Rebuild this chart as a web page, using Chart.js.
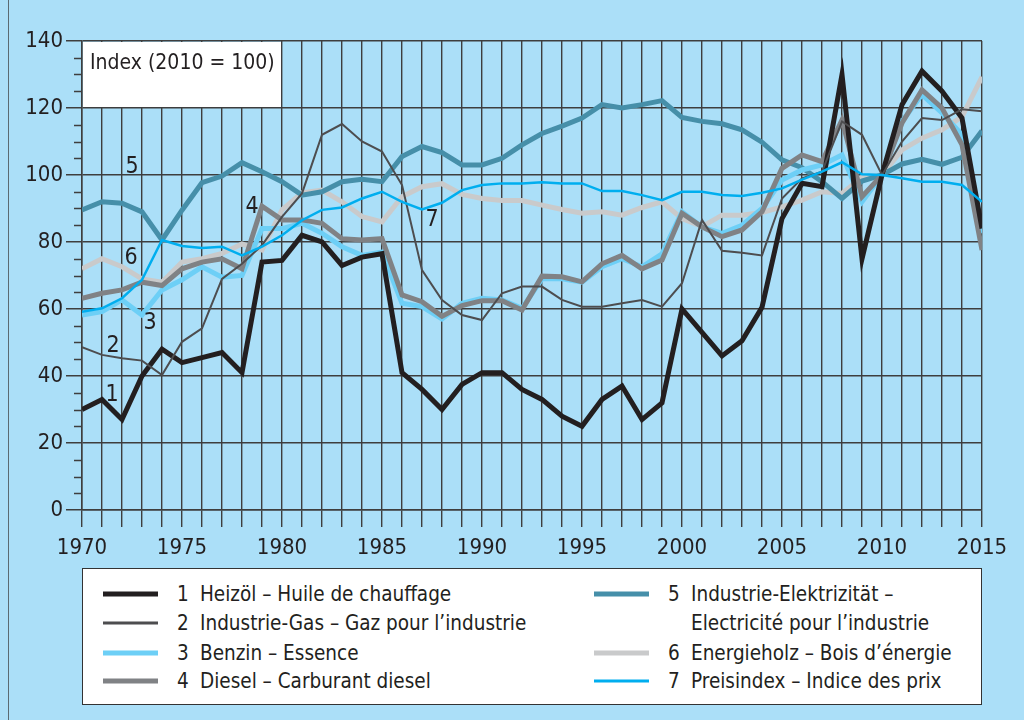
<!DOCTYPE html>
<html>
<head>
<meta charset="utf-8">
<script src="https://cdn.jsdelivr.net/npm/chart.js@4.4.1/dist/chart.umd.min.js"></script>
<style>
    body { margin: 0; background: #abdff8; }
    #wrap { position: relative; width: 1024px; height: 720px; overflow: hidden; background: #abdff8; }
    #edge { position: absolute; left: 8px; top: 0; width: 1px; height: 720px; background: #5a6a72; }
    #plot { position: absolute; left: 0; top: 0; }
    #legend {
        position: absolute; left: 82px; top: 568px; width: 898px; height: 135px;
        background: #fff; border: 1.5px solid #333;
        font-family: 'Liberation Sans Narrow', 'DejaVu Sans Condensed', sans-serif;
        font-size: 20.5px; color: #231f20;
    }
    .item { position: absolute; height: 26px; line-height: 26px; white-space: nowrap; }
    .item .swatch { position: absolute; left: 0; top: 50%; width: 55px; transform: translateY(-50%); }
    .item .num { position: absolute; left: 74px; }
    .item .txt { position: absolute; left: 97px; line-height: 29px; top: -1px; }
</style>
</head>
<body>
<div id="wrap">
    <div id="edge"></div>
    <canvas id="plot" width="1024" height="720"></canvas>
    <div id="legend"></div>
</div>
<script>
const years = [];
for (let y = 1970; y <= 2015; y++) years.push(y);

// 1 Heizöl
const heizoel = [30, 33, 27, 40, 48, 44, 45.5, 47, 41, 74, 74.5, 82, 80, 73, 75.5, 76.5,
    41, 36, 30, 37.5, 41, 41, 36, 33, 28, 25, 33, 37, 27, 32,
    60, 53, 46, 50.5, 60.5, 87, 97.5, 96.5, 130, 75, 100, 121, 131, 125, 117, 84];
// 2 Industrie-Gas
const gas = [48.6, 46.3, 45.3, 44.6, 40.3, 50.2, 54.2, 69, 73.5, 79, 87.5, 94.5, 112, 115.2, 110, 107,
    97, 71.6, 62.7, 58.2, 56.7, 64.7, 66.7, 66.7, 62.7, 60.7, 60.7, 61.7, 62.7, 60.7,
    67.7, 86.6, 77.4, 76.8, 76, 93, 99, 101, 116, 112, 100, 110, 117, 116.4, 119.6, 119];
// 3 Benzin
const benzin = [58.2, 59.2, 62.7, 58.2, 65.7, 68.7, 72.6, 69.5, 70, 84, 84, 85.6, 82.6, 78.6, 76, 77,
    61.7, 60.7, 57, 61.7, 63.2, 62.7, 60.2, 69, 69, 68, 72.6, 75, 72.6, 76.5,
    89, 84.5, 82.6, 85, 90, 98.5, 101.5, 103, 106, 92, 100, 116, 124, 118.5, 112, 82.6];
// 4 Diesel
const diesel = [63.2, 64.7, 65.7, 68, 67, 72, 74, 75, 72, 90.7, 86.6, 86.6, 85.6, 81, 80.6, 81,
    64.2, 62.2, 57.8, 61, 62.5, 62.5, 59.7, 69.8, 69.6, 68.1, 73.5, 76, 72, 74.6,
    88.6, 84.5, 81.6, 83.6, 89, 102, 106, 104, 116.4, 93.5, 100, 115.5, 125.4, 120, 109, 77.6];
// 5 Industrie-Elektrizität
const elektrizitaet = [89.6, 92, 91.6, 89, 80.6, 89.5, 97.7, 99.7, 103.7, 101, 98, 94, 95, 98, 98.7, 98,
    105.5, 108.5, 106.7, 103, 103, 105, 109, 112.4, 114.6, 117, 121, 120, 121, 122.2,
    117.2, 116, 115.3, 113.5, 109.8, 104.5, 102.2, 98, 93, 98.2, 100, 103.3, 104.7, 103.2, 105.3, 113.2];
// 6 Energieholz
const holz = [72, 75, 72.6, 69, 68, 74, 75, 76.6, 79.4, 77.6, 89.6, 94.7, 95.5, 92, 87.6, 86,
    93.5, 96.5, 97.4, 94.2, 93, 92.4, 92.4, 91, 89.7, 88.6, 89, 88, 90.3, 92,
    87, 84.6, 88, 88, 88.8, 90.5, 92.5, 95, 94.5, 99.3, 100, 107.5, 111, 113.5, 117.4, 129.3];
// 7 Preisindex
const preis = [59.2, 60.2, 63.2, 68.7, 80.6, 78.8, 78.2, 78.6, 76, 78.6, 82, 86.5, 89.6, 90.3, 93, 95,
    92, 89.7, 91.7, 95.5, 97, 97.5, 97.5, 97.8, 97.5, 97.5, 95.2, 95.2, 94, 92.5,
    95, 95, 94, 93.7, 94.7, 96, 98.6, 101, 103.8, 100.2, 100, 99, 98, 98, 97, 92];

const seriesNames = [
    'Heizöl – Huile de chauffage',
    'Industrie-Gas – Gaz pour l’industrie',
    'Benzin – Essence',
    'Diesel – Carburant diesel',
    'Industrie-Elektrizität –\nElectricité pour l’industrie',
    'Energieholz – Bois d’énergie',
    'Preisindex – Indice des prix'
];
const seriesData = [heizoel, gas, benzin, diesel, elektrizitaet, holz, preis];
const seriesColors = ['#231f20', '#4d4d4f', '#6dcff6', '#808285', '#468fa9', '#c9cacb', '#00aeef'];
const seriesWidths = [5, 2, 5, 5, 5, 5, 2.5];
// lower = drawn on top
const seriesOrder = [2, 1, 4, 3, 5, 6, 0];

// in-chart series numbers: [label, year, value]
const markers = [
    ['1', 1971.5, 34.3], ['2', 1971.55, 49], ['3', 1973.4, 55.8], ['4', 1978.5, 90.4],
    ['5', 1972.5, 102.4], ['6', 1972.45, 75.2], ['7', 1987.5, 86.6]
];

const FONT = "'Liberation Sans Narrow', 'DejaVu Sans Condensed', sans-serif";
const INK = '#231f20';
const GRID = '#3e3e3e';

const decor = {
    id: 'decor',
    beforeDatasetsDraw(chart) {
        const { ctx, scales: { x, y } } = chart;
        // white box behind the index title
        ctx.save();
        ctx.fillStyle = '#fff';
        const l = x.getPixelForValue(1970) + 1, r = x.getPixelForValue(1980) - 1;
        const t = y.getPixelForValue(140) + 1, b = y.getPixelForValue(120) - 1;
        ctx.fillRect(l, t, r - l, b - t);
        // minor y ticks every 5
        ctx.strokeStyle = GRID;
        ctx.lineWidth = 1.5;
        ctx.beginPath();
        for (let v = 5; v < 140; v += 5) {
            if (v % 20 === 0) continue;
            const py = Math.round(y.getPixelForValue(v)) + 0.5;
            ctx.moveTo(x.left - 8, py);
            ctx.lineTo(x.left, py);
        }
        ctx.stroke();
        ctx.restore();
    },
    afterDatasetsDraw(chart) {
        const { ctx, chartArea, scales: { x, y } } = chart;
        ctx.save();
        ctx.fillStyle = INK;
        ctx.font = '21px ' + FONT;
        ctx.textBaseline = 'middle';
        ctx.fillText('Index (2010 = 100)', chartArea.left + 8, y.getPixelForValue(133.2));
        ctx.font = '23px ' + FONT;
        ctx.textAlign = 'center';
        for (const [txt, xv, yv] of markers) {
            ctx.fillText(txt, x.getPixelForValue(xv), y.getPixelForValue(yv));
        }
        ctx.restore();
    }
};

const ctx = document.getElementById('plot').getContext('2d');
const chart = new Chart(ctx, {
    type: 'line',
    data: {
        datasets: seriesData.map((d, i) => ({
            label: seriesNames[i],
            data: d.map((v, k) => ({ x: years[k], y: v })),
            borderColor: seriesColors[i],
            borderWidth: seriesWidths[i],
            order: seriesOrder[i],
            pointRadius: 0,
            tension: 0,
            borderJoinStyle: 'miter',
            fill: false
        }))
    },
    options: {
        responsive: false,
        animation: false,
        layout: { padding: { left: 0, top: 41, right: 42, bottom: 150 } },
        plugins: { legend: { display: false }, tooltip: { enabled: false } },
        scales: {
            x: {
                type: 'linear', min: 1970, max: 2015,
                afterFit: (s) => { s.height = 60; },
                ticks: {
                    stepSize: 1, autoSkip: false, maxRotation: 0, padding: 8,
                    color: INK, font: { family: FONT, size: 22 },
                    callback: (v) => (v % 5 === 0 ? String(v) : '')
                },
                grid: { color: GRID, lineWidth: 1.4, tickLength: 17, tickColor: GRID },
                border: { color: GRID, width: 1.5 }
            },
            y: {
                min: 0, max: 140,
                afterFit: (s) => { s.width = 82; },
                ticks: {
                    stepSize: 20, padding: 3,
                    color: INK, font: { family: FONT, size: 22 }
                },
                grid: { color: GRID, lineWidth: 1.5, tickLength: 16, tickColor: GRID },
                border: { color: GRID, width: 1.5 }
            }
        }
    },
    plugins: [decor]
});

// legend: two columns, item 5 spans two rows
const legendSlots = [[0, 0], [0, 1], [0, 2], [0, 3], [1, 0], [1, 2], [1, 3]];
const rowY = [25, 54, 84, 112];
const colX = [20, 511];
const legendBox = document.getElementById('legend');
seriesNames.forEach((name, i) => {
    const [c, r] = legendSlots[i];
    const item = document.createElement('div');
    item.className = 'item';
    item.style.left = colX[c] + 'px';
    item.style.top = (rowY[r] - 13) + 'px';
    const sw = document.createElement('div');
    sw.className = 'swatch';
    sw.style.height = Math.max(seriesWidths[i], 3) + 'px';
    sw.style.background = seriesColors[i];
    const num = document.createElement('span');
    num.className = 'num';
    num.textContent = String(i + 1);
    const txt = document.createElement('span');
    txt.className = 'txt';
    txt.innerHTML = name.replace('\n', '<br>');
    item.append(sw, num, txt);
    legendBox.appendChild(item);
});
</script>
</body>
</html>
